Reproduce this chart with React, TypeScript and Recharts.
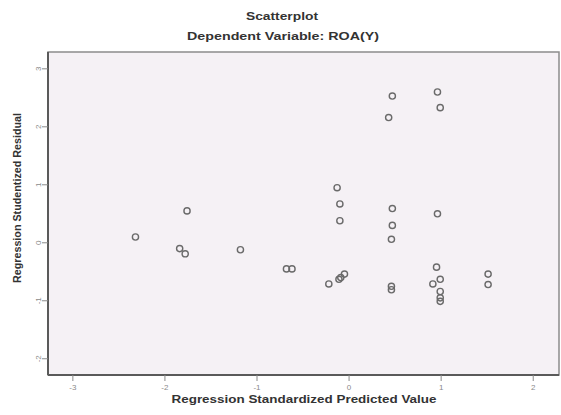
import React from "react";
import { ScatterChart, Scatter, XAxis, YAxis, ReferenceArea } from "recharts";

const predictedValues = [
  -2.32, -1.76, -1.84, -1.78, -1.18, -0.68, -0.62, -0.22, -0.11, -0.09, -0.05,
  -0.13, -0.1, -0.1, 0.43, 0.47, 0.47, 0.47, 0.46, 0.46, 0.46, 0.96, 0.99,
  0.96, 0.95, 0.91, 0.99, 0.99, 0.99, 0.99, 1.51, 1.51,
];
const residualValues = [
  0.1, 0.55, -0.1, -0.19, -0.12, -0.45, -0.45, -0.71, -0.63, -0.6, -0.54,
  0.95, 0.67, 0.38, 2.16, 2.53, 0.59, 0.3, 0.06, -0.75, -0.81, 2.6, 2.33,
  0.5, -0.42, -0.71, -0.63, -0.84, -0.95, -1.01, -0.54, -0.72,
];
const xTicks = [-3, -2, -1, 0, 1, 2];
const yTicks = [-2, -1, 0, 1, 2, 3];
const xDomain = [-3.27, 2.28];
const yDomain = [-2.28, 3.29];

const titleText = "Scatterplot";
const subtitleText = "Dependent Variable: ROA(Y)";
const xLabelText = "Regression Standardized Predicted Value";
const yLabelText = "Regression Studentized Residual";

const data = predictedValues.map((x, i) => ({ x, y: residualValues[i] }));

const FONT = '"Liberation Sans", Arial, sans-serif';

const XTick = (props: any) => {
  const { x, y, payload } = props;
  return (
    <text x={x} y={y + 7} textAnchor="middle" fontSize={8} fill="#8a8a8a" fontFamily={FONT}>
      {payload.value}
    </text>
  );
};

const YTick = (props: any) => {
  const { x, y, payload } = props;
  const tx = x + 2;
  return (
    <text
      x={tx}
      y={y}
      transform={`rotate(-90, ${tx}, ${y})`}
      textAnchor="middle"
      fontSize={8}
      fill="#8a8a8a"
      fontFamily={FONT}
    >
      {payload.value}
    </text>
  );
};

const Marker = (props: any) => {
  const { cx, cy } = props;
  return <circle cx={cx} cy={cy} r={3.1} fill="none" stroke="#6a6a6a" strokeWidth={1.4} />;
};

export default function App() {
  return (
    <div style={{ position: "absolute", left: 0, top: 0, width: 561, height: 415, background: "#fff" }}>
      <ScatterChart
        width={561}
        height={415}
        margin={{ top: 52, right: 2, bottom: 0, left: 0 }}
      >
        <ReferenceArea
          x1={xDomain[0]}
          x2={xDomain[1]}
          y1={yDomain[0]}
          y2={yDomain[1]}
          fill="#f5f1f5"
          fillOpacity={1}
          stroke="#8c8c8c"
          strokeWidth={1.5}
        />
        <XAxis
          type="number"
          dataKey="x"
          domain={xDomain}
          ticks={xTicks}
          allowDataOverflow
          height={40}
          tickSize={6}
          tick={<XTick />}
          axisLine={{ stroke: "#5a5a5a", strokeWidth: 2 }}
          tickLine={{ stroke: "#8a8a8a", strokeWidth: 1 }}
        />
        <YAxis
          type="number"
          dataKey="y"
          domain={yDomain}
          ticks={yTicks}
          allowDataOverflow
          width={48}
          tickSize={6}
          tickMargin={3}
          tick={<YTick />}
          axisLine={{ stroke: "#5a5a5a", strokeWidth: 2 }}
          tickLine={{ stroke: "#8a8a8a", strokeWidth: 1 }}
        />
        <Scatter data={data} shape={<Marker />} isAnimationActive={false} />
      </ScatterChart>
      <svg
        width={561}
        height={415}
        style={{ position: "absolute", left: 0, top: 0, pointerEvents: "none" }}
      >
        <text x={282} y={20} textAnchor="middle" fontSize={11} fontWeight="bold" fill="#333" fontFamily={FONT} textLength={72} lengthAdjust="spacingAndGlyphs">
          {titleText}
        </text>
        <text x={283} y={40} textAnchor="middle" fontSize={11} fontWeight="bold" fill="#333" fontFamily={FONT} textLength={192} lengthAdjust="spacingAndGlyphs">
          {subtitleText}
        </text>
        <text x={304} y={403} textAnchor="middle" fontSize={11} fontWeight="bold" fill="#333" fontFamily={FONT} textLength={265} lengthAdjust="spacingAndGlyphs">
          {xLabelText}
        </text>
        <text x={21} y={198} transform="rotate(-90, 21, 198)" textAnchor="middle" fontSize={11} fontWeight="bold" fill="#333" fontFamily={FONT} textLength={170} lengthAdjust="spacingAndGlyphs">
          {yLabelText}
        </text>
      </svg>
    </div>
  );
}
